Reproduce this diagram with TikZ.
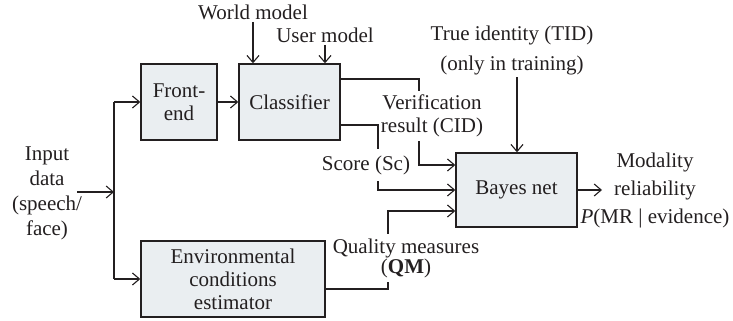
\documentclass[tikz,border=0pt]{standalone}
\usepackage{fontspec}
\setmainfont{Liberation Serif}
\usetikzlibrary{arrows.meta}
\definecolor{boxfill}{HTML}{EAEEF1}
\definecolor{ink}{HTML}{231F20}
\begin{document}
\begin{tikzpicture}[x=0.5pt,y=-0.5pt,
  blk/.style={draw=ink, line width=0.7pt, fill=boxfill, inner sep=0pt, align=center, text=ink,
    font=\fontsize{10.5}{11.5}\selectfont},
  lbl/.style={align=center, inner sep=1pt, text=ink, font=\fontsize{10.5}{12.5}\selectfont},
  cover/.style={lbl, fill=white},
  conn/.style={draw=ink, line width=0.55pt, -{Straight Barb[length=3.5pt,width=6pt]}},
  line/.style={draw=ink, line width=0.55pt}]
\useasboundingbox (0,0) rectangle (733,321);

% blocks
\node[blk, minimum width=38pt, minimum height=38pt] (fe) at (179,102) {Front-\\end};
\node[blk, minimum width=50.5pt, minimum height=38pt] (cl) at (289.5,102) {Classifier};
\node[blk, minimum width=60.5pt, minimum height=37pt] (bn) at (516.5,190) {Bayes net};
\node[blk, minimum width=92pt, minimum height=38pt] (env) at (233,279) {Environmental\\conditions\\estimator};

% plain labels
\node[lbl] (wm) at (253,12) {World model};
\node[lbl] (um) at (325,35) {User model};
\node[lbl, font=\fontsize{10.5}{15}\selectfont] (tid) at (512,50) {True identity (TID)\\(only in training)};
\node[lbl] (inp) at (47,193) {Input\\data\\(speech/\\face)};
\node[lbl, font=\fontsize{10.5}{14}\selectfont] (out) at (655,190) {Modality\\reliability\\\textit{P}(MR | evidence)};

% coordinates
\coordinate (ia) at (77,192);
\coordinate (sp) at (114,192);
\coordinate (v1) at (419,79);
\coordinate (v2) at (419,165);
\coordinate (s1) at (378,125);
\coordinate (s2) at (378,190);
\coordinate (q1) at (388,289);
\coordinate (q2) at (388,211);
\coordinate (t1) at (517,77);
\coordinate (o1) at (602,190);

% connectors
\draw[conn] (ia) -- (sp);
\draw[line] (sp |- fe.west) -- (sp |- env.west);
\draw[conn] (sp |- fe.west) -- (fe.west);
\draw[conn] (sp |- env.west) -- (env.west);
\draw[conn] (fe.east) -- (cl.west);
\draw[conn] (wm.south) -- (wm.south |- cl.north);
\draw[conn] (um.south) -- (um.south |- cl.north);
\draw[conn] (cl.east |- v1) -- (v1) -- (v2) -- (bn.west |- v2);
\draw[conn] (cl.east |- s1) -- (s1) -- (s2) -- (bn.west |- s2);
\draw[conn] (env.east |- q1) -- (q1) -- (q2) -- (bn.west |- q2);
\draw[conn] (t1) -- (t1 |- bn.north);
\draw[conn] (bn.east) -- (o1);

% labels that interrupt connectors
\node[cover, inner ysep=2pt, font=\fontsize{10.5}{11.5}\selectfont] (vr) at (432,116) {Verification\\result (CID)};
\node[cover, inner ysep=3pt] (sc) at (366,165) {Score (Sc)};
\node[cover, inner ysep=2pt, font=\fontsize{10.5}{10}\selectfont] (qm) at (406,258) {Quality measures\\(\textbf{QM})};
\end{tikzpicture}
\end{document}
